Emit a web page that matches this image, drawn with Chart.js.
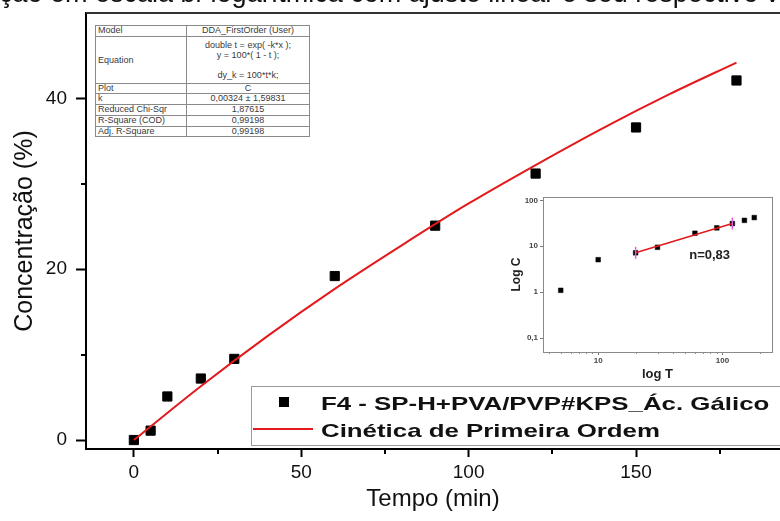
<!DOCTYPE html>
<html>
<head>
<meta charset="utf-8">
<script src="https://cdn.jsdelivr.net/npm/chart.js@4"></script>
<style>
  html, body { margin: 0; padding: 0; background: #fff; }
  #wrap { position: relative; width: 780px; height: 521px; overflow: hidden; background: #fff; }
  #caption {
    position: absolute; left: -1px; top: -20px; z-index: 3;
    font: 27px/27px "Liberation Sans", Arial, sans-serif; color: #111; white-space: nowrap;
  }
  #main { position: absolute; left: 0; top: 0; z-index: 0; }
  #inset { position: absolute; left: 495px; top: 185px; z-index: 1; }
  #fitTable {
    position: absolute; left: 95px; top: 25px; width: 215px; z-index: 2;
    border-collapse: collapse; background: #fff;
    font: 9px "Liberation Sans", Arial, sans-serif; color: #3a3a3a;
  }
  #fitTable td { border: 1px solid #8a8a8a; padding: 0 2px; height: 9.7px; line-height: 9.7px; white-space: nowrap; }
  #fitTable td + td { text-align: center; width: 118px; }
  #fitTable tr.tall td { height: 46px; line-height: 10px; }
</style>
</head>
<body>
<div id="wrap">
  <div id="caption">ção em escala bi-logarítmica com ajuste linear e seu respectivo valor</div>
  <canvas id="main" width="780" height="521"></canvas>
  <canvas id="inset" width="285" height="200"></canvas>
  <table id="fitTable"></table>
</div>
<script>
// ---- main plot data ----
const TIMES = [0, 5, 10, 20, 30, 60, 90, 120, 150, 180];
const RELEASE = [0, 1.1, 5.1, 7.2, 9.5, 19.2, 25.1, 31.2, 36.6, 42.1];
const FIT_TIMES = [0, 20, 40, 60, 80, 100, 120, 140, 160, 180];
const FIT_VALUES = [0, 6.3, 12.2, 17.7, 22.8, 27.7, 32.2, 36.5, 40.5, 44.2];
const X_MAJOR = [0, 50, 100, 150];
const X_MINOR = [25, 75, 125, 175];
const Y_MAJOR = [0, 20, 40];
const Y_MINOR = [10, 30];

// ---- inset (log-log) ----
const LINFIT_T = [20, 120];
const LINFIT_C = [7.2, 31.2];
const LOG_X_TICKS = [10, 100];
const LOG_X_MINOR = [4, 5, 6, 7, 8, 9, 20, 30, 40, 50, 60, 70, 80, 90, 200];
const LOG_Y_TICKS = [0.1, 1, 10, 100];

// ---- fit report table ----
const FIT_LABELS = ['Model', 'Equation', 'Plot', 'k', 'Reduced Chi-Sqr', 'R-Square (COD)', 'Adj. R-Square'];
const FIT_VALUES_TXT = [
  'DDA_FirstOrder (User)',
  'double t = exp( -k*x );<br>y = 100*( 1 - t );<br>&nbsp;<br>dy_k = 100*t*k;',
  'C', '0,00324 ± 1,59831', '1,87615', '0,99198', '0,99198'
];

const FONT = '"Liberation Sans", Arial, sans-serif';
Chart.defaults.font.family = FONT;
Chart.defaults.color = '#111';

const xy = (xs, ys) => xs.map((x, i) => ({ x: x, y: ys[i] }));

// build the fit table
const table = document.getElementById('fitTable');
FIT_LABELS.forEach((lab, i) => {
  const tr = document.createElement('tr');
  if (lab === 'Equation') tr.className = 'tall';
  tr.innerHTML = '<td>' + lab + '</td><td>' + FIT_VALUES_TXT[i] + '</td>';
  table.appendChild(tr);
});

// draws short minor ticks, the top frame line and the in-plot legend
const mainDecor = {
  id: 'mainDecor',
  afterDraw(chart) {
    const { ctx, chartArea, scales } = chart;
    ctx.save();
    ctx.strokeStyle = '#000';
    ctx.lineWidth = 2;
    ctx.beginPath();
    X_MINOR.forEach(v => {
      const px = Math.round(scales.x.getPixelForValue(v));
      ctx.moveTo(px, chartArea.bottom);
      ctx.lineTo(px, chartArea.bottom + 5);
    });
    Y_MINOR.forEach(v => {
      const py = Math.round(scales.y.getPixelForValue(v));
      ctx.moveTo(chartArea.left, py);
      ctx.lineTo(chartArea.left - 5, py);
    });
    ctx.stroke();

    // top frame
    ctx.strokeStyle = '#333';
    ctx.beginPath();
    ctx.moveTo(chartArea.left, chartArea.top);
    ctx.lineTo(chartArea.right, chartArea.top);
    ctx.stroke();

    // legend
    const ds = chart.data.datasets;
    const left = chartArea.left + 165, top = chartArea.bottom - 63;
    ctx.fillStyle = '#fff';
    ctx.fillRect(left, top, 560, 59);
    ctx.strokeStyle = '#9a9a9a';
    ctx.lineWidth = 1;
    ctx.strokeRect(left + 0.5, top + 0.5, 560, 59);

    ctx.fillStyle = ds[0].backgroundColor;
    ctx.fillRect(left + 28, top + 11, 10, 10);
    ctx.strokeStyle = ds[1].borderColor;
    ctx.lineWidth = 2;
    ctx.beginPath();
    ctx.moveTo(left + 2, top + 43);
    ctx.lineTo(left + 62, top + 43);
    ctx.stroke();

    ctx.fillStyle = '#111';
    ctx.font = 'bold 19px ' + FONT;
    ctx.textBaseline = 'alphabetic';
    [[ds[0].label, top + 24], [ds[1].label, top + 51]].forEach(([txt, by]) => {
      ctx.save();
      ctx.translate(left + 70, by);
      ctx.scale(1.36, 1);
      ctx.fillText(txt, 0, 0);
      ctx.restore();
    });
    ctx.restore();
  }
};

new Chart(document.getElementById('main'), {
  type: 'scatter',
  data: {
    datasets: [
      {
        label: 'F4 - SP-H+PVA/PVP#KPS_Ác. Gálico',
        data: xy(TIMES, RELEASE),
        pointStyle: 'rect',
        pointRadius: 6.5,
        backgroundColor: '#000',
        borderColor: '#000',
        borderWidth: 1,
        order: 2
      },
      {
        label: 'Cinética de Primeira Ordem',
        data: xy(FIT_TIMES, FIT_VALUES),
        showLine: true,
        pointRadius: 0,
        borderColor: '#e3191c',
        backgroundColor: '#e3191c',
        borderWidth: 2,
        cubicInterpolationMode: 'monotone',
        order: 1
      }
    ]
  },
  options: {
    responsive: false,
    animation: false,
    layout: { autoPadding: false, padding: { top: 13, right: 0, left: 0, bottom: 0 } },
    plugins: { legend: { display: false }, tooltip: { enabled: false } },
    scales: {
      x: {
        type: 'linear',
        min: -14.3,
        max: 193,
        afterBuildTicks: s => { s.ticks = X_MAJOR.map(v => ({ value: v })); },
        afterFit: s => { s.height = 72; s.paddingLeft = 0; s.paddingRight = 0; },
        ticks: { font: { size: 19 }, color: '#111', padding: 4, maxRotation: 0 },
        grid: { drawOnChartArea: false, tickLength: 8, tickWidth: 2, tickColor: '#000' },
        border: { color: '#000', width: 2 },
        title: { display: true, text: 'Tempo (min)', font: { size: 24 }, color: '#111', padding: { top: 0, bottom: 7 } }
      },
      y: {
        type: 'linear',
        min: -1.05,
        max: 50,
        afterBuildTicks: s => { s.ticks = Y_MAJOR.map(v => ({ value: v })); },
        afterFit: s => { s.width = 86; s.paddingTop = 0; s.paddingBottom = 0; },
        ticks: { font: { size: 19 }, color: '#111', padding: 9 },
        grid: { drawOnChartArea: false, tickLength: 10, tickWidth: 2, tickColor: '#000' },
        border: { color: '#000', width: 2 },
        title: { display: true, text: 'Concentração (%)', font: { size: 25 }, color: '#111', padding: { top: 10, bottom: 0 } }
      }
    }
  },
  plugins: [mainDecor]
});

// inset: log-log plot
const insetDecor = {
  id: 'insetDecor',
  afterDraw(chart) {
    const { ctx, chartArea, scales } = chart;
    ctx.save();
    ctx.strokeStyle = '#8a8a8a';
    ctx.lineWidth = 1;
    ctx.strokeRect(chartArea.left + 0.5, chartArea.top + 0.5, chartArea.right - chartArea.left, chartArea.bottom - chartArea.top);
    ctx.beginPath();
    LOG_X_MINOR.forEach(v => {
      const px = Math.round(scales.x.getPixelForValue(v)) + 0.5;
      ctx.moveTo(px, chartArea.bottom);
      ctx.lineTo(px, chartArea.bottom + 2);
    });
    ctx.stroke();
    ctx.fillStyle = '#222';
    ctx.font = 'bold 13px ' + FONT;
    ctx.textBaseline = 'middle';
    ctx.fillText('n=0,83', scales.x.getPixelForValue(54), scales.y.getPixelForValue(6.3));
    ctx.restore();
  }
};

new Chart(document.getElementById('inset'), {
  type: 'scatter',
  data: {
    datasets: [
      {
        data: xy(TIMES.slice(1), RELEASE.slice(1)),
        pointStyle: 'rect',
        pointRadius: 3.3,
        backgroundColor: '#000',
        borderColor: '#000',
        borderWidth: 0.5,
        order: 3
      },
      {
        data: xy(LINFIT_T, LINFIT_C),
        showLine: true,
        pointRadius: 0,
        borderColor: '#e3191c',
        borderWidth: 1.5,
        order: 2
      },
      {
        data: xy(LINFIT_T, LINFIT_C),
        pointStyle: 'line',
        rotation: 90,
        pointRadius: 6,
        borderColor: '#e060e0',
        borderWidth: 1.5,
        order: 1
      }
    ]
  },
  options: {
    responsive: false,
    animation: false,
    layout: { padding: { top: 12, right: 8, left: 0, bottom: 0 } },
    plugins: { legend: { display: false }, tooltip: { enabled: false } },
    scales: {
      x: {
        type: 'logarithmic',
        min: 3.6,
        max: 250,
        afterBuildTicks: s => { s.ticks = LOG_X_TICKS.map(v => ({ value: v })); },
        afterFit: s => { s.height = 33; },
        ticks: { font: { size: 8, weight: 'bold' }, color: '#444', padding: 1, callback: v => String(v) },
        grid: { drawOnChartArea: false, tickLength: 3, tickColor: '#777' },
        border: { color: '#8a8a8a', width: 1 },
        title: { display: true, text: 'log T', font: { size: 13, weight: 'bold' }, color: '#222', padding: { top: 0, bottom: 3 } }
      },
      y: {
        type: 'logarithmic',
        min: 0.05,
        max: 118,
        afterBuildTicks: s => { s.ticks = LOG_Y_TICKS.map(v => ({ value: v })); },
        afterFit: s => { s.width = 48; },
        ticks: { font: { size: 8, weight: 'bold' }, color: '#444', padding: 2, callback: v => String(v).replace('.', ',') },
        grid: { drawOnChartArea: false, tickLength: 3, tickColor: '#777' },
        border: { color: '#8a8a8a', width: 1 },
        title: { display: true, text: 'Log C', font: { size: 12, weight: 'bold' }, color: '#222', padding: { top: 14, bottom: 0 } }
      }
    }
  },
  plugins: [insetDecor]
});
</script>
</body>
</html>
